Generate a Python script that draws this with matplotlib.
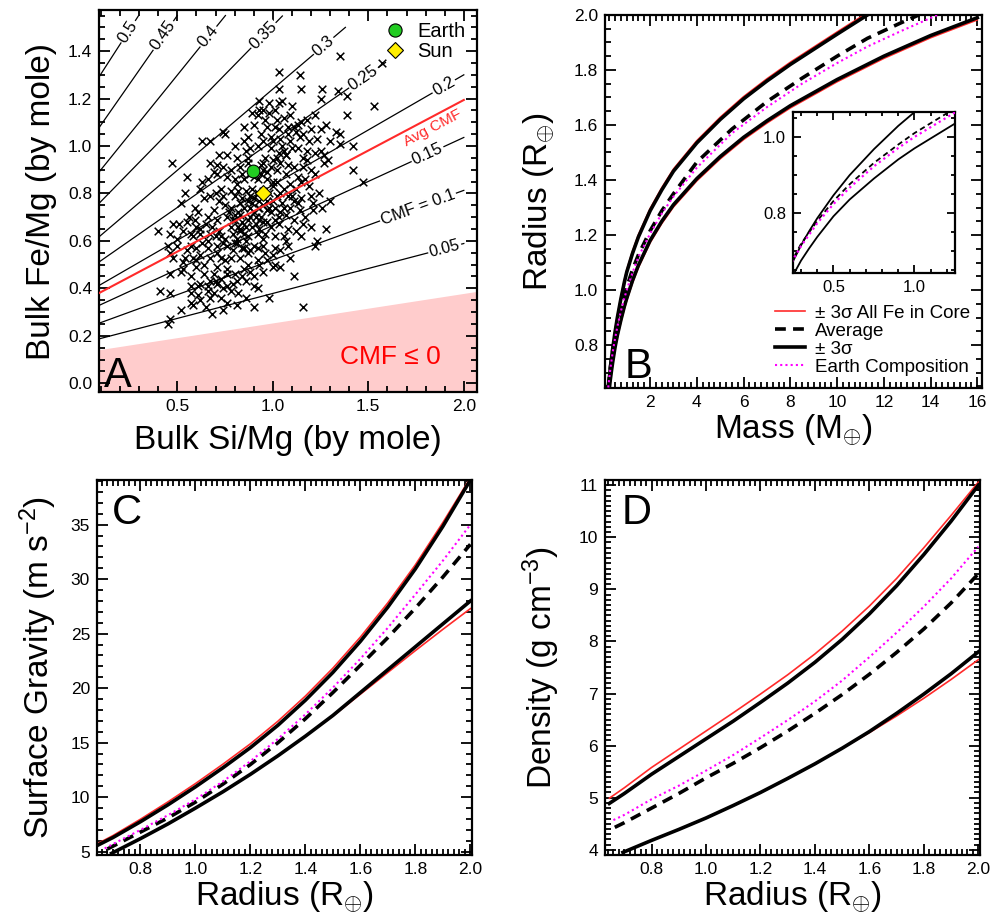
import matplotlib
matplotlib.use('Agg')
import matplotlib.pyplot as plt
from matplotlib.ticker import MultipleLocator, FormatStrFormatter
from matplotlib.lines import Line2D
import numpy as np

plt.rcParams['font.family'] = ['Liberation Sans', 'DejaVu Sans']
plt.rcParams['mathtext.fontset'] = 'custom'
plt.rcParams['mathtext.rm'] = 'Liberation Sans'
plt.rcParams['mathtext.it'] = 'Liberation Sans:italic'
plt.rcParams['mathtext.sf'] = 'Liberation Sans'

# ---------------- Panel A data ----------------
cmf_levels = [0.05, 0.1, 0.15, 0.2, 0.25, 0.3, 0.35, 0.4, 0.45, 0.5]
cmf_labels = ['0.05', 'CMF = 0.1', '0.15', '0.2', '0.25', '0.3', '0.35', '0.4', '0.45', '0.5']
line_si_start = 0.09
line_fe_start = [0.187, 0.253, 0.328, 0.412, 0.511, 0.617, 0.758, 0.890, 1.077, 1.291]
line_si_end = [2.0, 2.0, 2.0, 2.0, 1.59, 1.38, 1.05, 0.752, 0.50, 0.296]
line_fe_end = [0.589, 0.813, 1.036, 1.30, 1.352, 1.50, 1.548, 1.55, 1.55, 1.548]
label_si = [1.90, 1.76, 1.81, 1.895, 1.475, 1.266, 0.951, 0.663, 0.427, 0.243]

avg_cmf_si = [0.09, 2.0]
avg_cmf_fe = [0.380, 1.194]
cmf0_si = [0.09, 2.07]
cmf0_fe = [0.139, 0.385]

earth_si, earth_fe = 0.895, 0.894
sun_si, sun_fe = 0.949, 0.804

sample_si = [
    1.35, 1.57, 1.03, 1.14, 1.15, 1.03, 1.26, 1.34, 1.25, 1.39, 1.53,
    0.98, 1.03, 0.93, 0.95, 0.92, 0.98, 1.01, 1.09, 1.39, 0.85, 1.01, 1.03, 1.08, 1.13, 1.15, 1.20, 1.25, 1.33, 1.35, 0.74, 0.75,
    0.94, 0.99, 0.95, 1.04, 1.09, 1.14, 1.19, 1.23, 1.35, 1.42, 0.63, 0.67, 0.85, 0.88, 0.92, 0.99, 1.06, 1.07, 1.13, 1.18, 1.22, 1.27, 0.76, 0.81, 0.87, 1.02, 1.16,
    0.47, 0.67, 0.71, 0.74, 0.78, 0.83, 0.87, 0.90, 0.95, 0.99, 1.02, 1.08, 1.11, 1.16, 1.20, 1.27, 1.29, 1.42, 0.55, 0.66, 0.71, 0.76, 0.80, 0.84, 0.94, 0.97, 1.02, 1.07, 1.13, 1.17, 1.22, 1.47,
    0.52, 0.54, 0.62, 0.67, 0.64, 0.73, 0.74, 0.80, 0.82, 0.87, 0.92, 0.95, 1.00, 1.02, 1.08, 1.11, 1.15, 1.20, 0.78, 0.83, 0.88, 0.93, 0.97, 1.01, 1.06, 1.09, 1.14, 1.30, 1.26, 1.21, 0.69, 0.59,
    0.40, 0.48, 0.51, 0.55, 0.59, 0.60, 0.65, 0.71, 0.76, 0.80, 0.83, 0.87, 0.91, 0.95, 0.99, 1.03, 1.08, 1.11, 1.16, 1.20, 1.28, 1.23, 0.57, 0.62, 0.67, 0.73, 0.79, 0.83, 0.87, 0.92, 0.95, 1.01, 1.06, 1.15, 0.46,
    0.45, 0.50, 0.46, 0.57, 0.60, 0.66, 0.71, 0.76, 0.81, 0.85, 0.90, 0.95, 1.01, 1.08, 1.22, 0.48, 0.53, 0.58, 0.62, 0.67, 0.73, 0.78, 0.83, 0.87, 0.92, 0.97, 1.01, 1.09, 0.60, 0.71,
    0.46, 0.53, 0.57, 0.62, 0.67, 0.73, 0.76, 0.80, 0.85, 0.90, 0.95, 1.00, 1.04, 1.11, 0.57, 0.61, 0.66, 0.71, 0.76, 0.81, 0.86, 0.90, 0.41, 0.46, 0.57, 0.66, 0.78, 0.92,
    0.57, 0.58, 0.62, 0.67, 0.73, 0.76, 0.81, 0.98, 0.90, 1.16, 0.52, 0.68, 0.74, 0.46, 0.45, 0.65,
    0.82, 0.85, 0.88, 0.90, 0.86, 0.84, 0.80, 0.92, 0.89, 0.94, 0.97, 0.99, 0.91, 0.88, 0.83, 0.86, 0.78, 0.81, 0.93, 0.96, 1.03, 1.05, 0.98, 1.00,
    0.95, 0.92, 0.89, 0.96, 1.04, 1.07, 1.10, 1.12, 1.00, 0.97, 1.06, 1.16, 1.18, 0.87, 0.79, 0.74, 0.70, 0.76, 0.69, 0.64, 0.63, 0.58, 0.55, 0.52,
    0.84, 0.86, 0.90, 0.93, 0.95, 0.98, 1.00, 1.04, 1.06, 1.09, 1.12, 1.10, 1.13, 1.07, 1.04, 1.01, 0.97, 0.93, 0.89, 0.85,
    0.82, 0.79, 0.77, 0.75, 0.72, 0.70, 0.78, 0.81, 0.85, 0.88, 0.91, 0.94, 0.97, 1.00, 1.03, 1.05, 1.08, 1.11, 1.02, 0.96,
    0.90, 0.87, 0.80, 0.72, 0.69, 0.63, 0.61, 0.66, 0.68, 0.72, 0.75, 0.80, 0.84, 0.88, 0.92, 0.96, 1.00, 1.04, 1.07, 1.12,
    1.17, 1.21, 1.24, 1.19, 1.15, 0.75, 0.71, 0.66, 0.62, 0.56, 0.53, 0.50, 0.54, 0.60, 0.64, 0.70, 0.74, 0.79, 0.84, 0.88,
    0.93, 0.82, 0.86, 0.69, 0.61, 1.18, 1.25, 1.30, 1.28, 1.22, 1.10, 1.05, 0.93, 0.89, 0.86,
]
sample_fe = [
    1.38, 1.35, 1.31, 1.30, 1.24, 1.24, 1.24, 1.23, 1.20, 1.21, 1.17,
    1.18, 1.18, 1.15, 1.15, 1.13, 1.14, 1.15, 1.13, 1.13, 1.08, 1.08, 1.07, 1.08, 1.09, 1.10, 1.07, 1.07, 1.06, 1.05, 1.06, 1.05,
    1.05, 1.04, 1.02, 1.03, 1.02, 1.04, 1.02, 1.03, 1.01, 1.00, 1.02, 1.02, 1.02, 0.99, 1.00, 0.99, 0.98, 0.96, 0.99, 0.98, 0.97, 0.96, 0.96, 0.95, 0.95, 0.95, 0.95,
    0.93, 0.93, 0.92, 0.91, 0.90, 0.91, 0.93, 0.87, 0.93, 0.91, 0.90, 0.92, 0.91, 0.91, 0.90, 0.93, 0.94, 0.90, 0.87, 0.86, 0.88, 0.87, 0.86, 0.88, 0.88, 0.86, 0.85, 0.88, 0.87, 0.86, 0.88, 0.85,
    0.76, 0.80, 0.82, 0.79, 0.78, 0.82, 0.79, 0.79, 0.81, 0.77, 0.80, 0.81, 0.83, 0.79, 0.79, 0.77, 0.78, 0.79, 0.74, 0.76, 0.74, 0.74, 0.73, 0.74, 0.74, 0.74, 0.73, 0.77, 0.74, 0.73, 0.73, 0.74,
    0.64, 0.67, 0.67, 0.68, 0.69, 0.66, 0.67, 0.69, 0.70, 0.69, 0.71, 0.69, 0.70, 0.68, 0.66, 0.67, 0.65, 0.69, 0.67, 0.66, 0.65, 0.60, 0.63, 0.63, 0.63, 0.62, 0.63, 0.65, 0.62, 0.63, 0.61, 0.62, 0.62, 0.62, 0.63,
    0.58, 0.58, 0.55, 0.58, 0.57, 0.57, 0.58, 0.58, 0.59, 0.57, 0.58, 0.58, 0.57, 0.58, 0.58, 0.53, 0.51, 0.53, 0.54, 0.53, 0.53, 0.53, 0.53, 0.50, 0.52, 0.52, 0.50, 0.53, 0.49, 0.49,
    0.46, 0.48, 0.45, 0.42, 0.43, 0.44, 0.46, 0.46, 0.48, 0.45, 0.47, 0.49, 0.49, 0.45, 0.41, 0.41, 0.41, 0.42, 0.41, 0.43, 0.43, 0.41, 0.39, 0.38, 0.38, 0.39, 0.39, 0.40,
    0.34, 0.33, 0.35, 0.36, 0.36, 0.34, 0.33, 0.36, 0.32, 0.32, 0.31, 0.29, 0.31, 0.27, 0.25, 0.32,
    0.72, 0.74, 0.70, 0.72, 0.66, 0.68, 0.71, 0.74, 0.76, 0.70, 0.77, 0.72, 0.67, 0.79, 0.64, 0.60, 0.66, 0.61, 0.65, 0.63, 0.70, 0.76, 0.80, 0.85,
    0.90, 0.86, 0.82, 0.95, 0.93, 0.96, 0.99, 1.06, 1.02, 1.08, 1.12, 1.05, 1.11, 0.55, 0.56, 0.59, 0.62, 0.48, 0.46, 0.50, 0.59, 0.62, 0.56, 0.47,
    0.78, 0.81, 0.78, 0.77, 0.75, 0.74, 0.77, 0.80, 0.82, 0.84, 0.82, 0.79, 0.76, 0.71, 0.72, 0.69, 0.68, 0.69, 0.66, 0.63,
    0.66, 0.69, 0.72, 0.75, 0.77, 0.80, 0.81, 0.84, 0.86, 0.88, 0.90, 0.92, 0.89, 0.94, 0.97, 1.00, 1.05, 1.08, 1.11, 1.11,
    1.09, 1.04, 1.00, 0.96, 0.89, 0.85, 0.72, 0.70, 0.66, 0.64, 0.61, 0.59, 0.57, 0.56, 0.57, 0.55, 0.54, 0.56, 0.60, 0.64,
    0.70, 0.76, 0.80, 0.83, 0.85, 0.52, 0.55, 0.60, 0.65, 0.70, 0.64, 0.61, 0.53, 0.52, 0.46, 0.43, 0.40, 0.42, 0.45, 0.47,
    0.50, 0.38, 0.36, 0.38, 0.37, 0.94, 0.98, 1.02, 1.09, 1.13, 1.17, 1.19, 1.19, 1.14, 0.98,
]

# ---------------- Panel B data (mass, radius) ----------------
mr_up_mass = [0.21, 0.25, 0.3, 0.35, 0.4, 0.5, 0.6, 0.75, 0.9, 1.0, 1.25, 1.5, 2.0, 2.5, 3.0, 4.0, 5.0, 6.0, 7.0, 8.0, 9.0, 10.0, 11.3]
mr_up_rad = [0.64, 0.674, 0.716, 0.753, 0.787, 0.847, 0.90, 0.968, 1.029, 1.065, 1.134, 1.193, 1.288, 1.364, 1.432, 1.535, 1.62, 1.695, 1.76, 1.82, 1.875, 1.93, 2.0]
mr_up_red_rad = [0.648, 0.682, 0.724, 0.761, 0.795, 0.855, 0.908, 0.976, 1.037, 1.073, 1.142, 1.201, 1.296, 1.372, 1.44, 1.543, 1.628, 1.703, 1.768, 1.828, 1.883, 1.938, 2.008]
mr_lo_mass = [0.26, 0.3, 0.35, 0.4, 0.5, 0.6, 0.75, 0.9, 1.0, 1.25, 1.5, 2.0, 2.5, 3.0, 4.0, 5.0, 6.0, 7.0, 8.0, 10.0, 12.0, 14.0, 16.0]
mr_lo_rad = [0.645, 0.676, 0.708, 0.738, 0.792, 0.836, 0.891, 0.941, 0.97, 1.035, 1.09, 1.18, 1.25, 1.31, 1.405, 1.485, 1.555, 1.615, 1.67, 1.765, 1.85, 1.925, 1.99]
mr_lo_red_rad = [0.637, 0.668, 0.70, 0.73, 0.784, 0.828, 0.883, 0.933, 0.962, 1.027, 1.082, 1.172, 1.242, 1.302, 1.397, 1.477, 1.547, 1.607, 1.662, 1.757, 1.842, 1.917, 1.982]
mr_avg_mass = [0.205, 0.25, 0.3, 0.4, 0.5, 0.6, 0.75, 0.9, 1.0, 1.25, 1.5, 2.0, 2.5, 3.0, 4.0, 5.5, 7.0, 8.5, 10.0, 11.3, 12.7, 13.5]
mr_avg_rad = [0.645, 0.68, 0.72, 0.78, 0.832, 0.876, 0.932, 0.98, 1.01, 1.075, 1.128, 1.215, 1.288, 1.35, 1.465, 1.585, 1.685, 1.77, 1.85, 1.915, 1.97, 2.0]
mr_earth_mass = [0.21, 0.25, 0.3, 0.4, 0.5, 0.6, 0.75, 0.9, 1.0, 1.25, 1.5, 2.0, 2.5, 3.0, 4.0, 5.5, 7.0, 8.5, 10.0, 11.3, 12.7, 14.3]
mr_earth_rad = [0.646, 0.678, 0.714, 0.774, 0.824, 0.867, 0.923, 0.971, 1.0, 1.064, 1.12, 1.205, 1.278, 1.34, 1.445, 1.57, 1.665, 1.75, 1.825, 1.885, 1.94, 2.0]

# ---------------- Panel C data (radius, surface gravity) ----------------
g_hi_rad = [0.645, 0.7, 0.8, 0.9, 1.0, 1.1, 1.2, 1.3, 1.4, 1.5, 1.6, 1.7, 1.8, 1.9, 2.0]
g_hi = [5.6, 6.3, 7.75, 9.3, 10.95, 12.7, 14.55, 16.6, 18.9, 21.45, 24.3, 27.45, 30.95, 34.85, 39.1]
g_hi_red = [5.75, 6.48, 7.98, 9.57, 11.25, 13.03, 14.9, 16.97, 19.28, 21.84, 24.69, 27.84, 31.32, 35.2, 39.3]
g_lo_rad = [0.695, 0.8, 0.9, 1.0, 1.1, 1.2, 1.3, 1.4, 1.5, 1.6, 1.7, 1.8, 1.9, 2.0]
g_lo = [4.85, 6.2, 7.55, 9.0, 10.5, 12.1, 13.8, 15.6, 17.5, 19.6, 21.7, 23.8, 25.9, 28.0]
g_lo_red = [4.85, 6.2, 7.55, 9.0, 10.5, 12.1, 13.8, 15.6, 17.45, 19.45, 21.45, 23.45, 25.4, 27.3]
g_earth_rad = [0.67, 0.7, 0.8, 0.9, 1.0, 1.1, 1.2, 1.3, 1.4, 1.5, 1.6, 1.7, 1.8, 1.9, 2.0]
g_earth = [5.3, 5.7, 7.0, 8.35, 9.8, 11.45, 13.3, 15.35, 17.6, 20.05, 22.7, 25.55, 28.6, 31.7, 35.0]
g_avg_rad = [0.68, 0.8, 0.9, 1.0, 1.1, 1.2, 1.3, 1.4, 1.5, 1.6, 1.7, 1.8, 1.9, 2.0]
g_avg = [5.25, 6.8, 8.1, 9.55, 11.2, 13.0, 15.0, 17.2, 19.6, 22.1, 24.65, 27.35, 30.2, 33.2]

# ---------------- Panel D data (radius, density) ----------------
d_hi_rad = [0.645, 0.7, 0.8, 0.9, 1.0, 1.1, 1.2, 1.3, 1.4, 1.5, 1.6, 1.7, 1.8, 1.9, 2.0]
d_hi = [4.89, 5.08, 5.45, 5.79, 6.13, 6.47, 6.83, 7.2, 7.6, 8.04, 8.53, 9.07, 9.67, 10.31, 11.0]
d_hi_red = [4.99, 5.19, 5.58, 5.93, 6.28, 6.63, 6.99, 7.36, 7.76, 8.2, 8.68, 9.21, 9.8, 10.42, 11.06]
d_lo_rad = [0.695, 0.8, 0.9, 1.0, 1.1, 1.2, 1.3, 1.4, 1.5, 1.6, 1.7, 1.8, 1.9, 2.0]
d_lo = [3.95, 4.18, 4.39, 4.61, 4.85, 5.1, 5.37, 5.65, 5.95, 6.27, 6.62, 6.99, 7.38, 7.8]
d_lo_red = [3.95, 4.18, 4.39, 4.61, 4.85, 5.1, 5.37, 5.65, 5.95, 6.25, 6.57, 6.91, 7.27, 7.65]
d_earth_rad = [0.66, 0.7, 0.8, 0.9, 1.0, 1.1, 1.2, 1.3, 1.4, 1.5, 1.6, 1.7, 1.8, 1.9, 2.0]
d_earth = [4.57, 4.67, 4.97, 5.23, 5.52, 5.82, 6.15, 6.49, 6.85, 7.25, 7.7, 8.17, 8.67, 9.21, 9.82]
d_avg_rad = [0.665, 0.7, 0.8, 0.9, 1.0, 1.1, 1.2, 1.3, 1.4, 1.5, 1.6, 1.7, 1.8, 1.9, 2.0]
d_avg = [4.43, 4.52, 4.8, 5.08, 5.38, 5.66, 5.96, 6.28, 6.62, 6.98, 7.37, 7.79, 8.24, 8.74, 9.3]

# ---------------- styling ----------------
RED = '#ff2a2a'
MAG = '#ff00ff'
LW_BLK = 2.6
LW_RED = 1.2
TICK_FS = 12.5
LAB_FS = 24


def style(ax, xmaj, xmin, ymaj, ymin, xfmt, yfmt, fs=TICK_FS, majlen=8, minlen=4):
    ax.xaxis.set_major_locator(MultipleLocator(xmaj))
    ax.xaxis.set_minor_locator(MultipleLocator(xmin))
    ax.yaxis.set_major_locator(MultipleLocator(ymaj))
    ax.yaxis.set_minor_locator(MultipleLocator(ymin))
    ax.xaxis.set_major_formatter(FormatStrFormatter(xfmt))
    ax.yaxis.set_major_formatter(FormatStrFormatter(yfmt))
    ax.tick_params(which='both', direction='in', top=True, right=True, width=1.3,
                   labelsize=fs, pad=5)
    ax.tick_params(which='major', length=majlen)
    ax.tick_params(which='minor', length=minlen)
    for sp in ax.spines.values():
        sp.set_linewidth(1.6)


fig = plt.figure(figsize=(9.9, 9.22), dpi=100)

# ================= Panel A =================
axA = fig.add_axes([0.100, 0.5748, 0.382, 0.4143])
axA.set_xlim(0.09, 2.07)
axA.set_ylim(-0.037, 1.573)
axA.fill([0.09, cmf0_si[0], cmf0_si[1], 2.07], [-0.037, cmf0_fe[0], cmf0_fe[1], -0.037],
         color='#ffcccc', lw=0, zorder=0)
for k, lev in enumerate(cmf_levels):
    xs = [line_si_start, line_si_end[k]]
    ys = [line_fe_start[k], line_fe_end[k]]
    axA.plot(xs, ys, color='black', lw=0.9, zorder=2)
    slope = (ys[1] - ys[0]) / (xs[1] - xs[0])
    ang = np.degrees(np.arctan(slope))
    ly = ys[0] + slope * (label_si[k] - xs[0])
    fs = 12 if k > 0 else 11.5
    axA.text(label_si[k], ly, cmf_labels[k], rotation=ang, transform_rotates_text=True,
             rotation_mode='anchor', ha='center', va='center', fontsize=fs, zorder=4,
             bbox=dict(fc='white', ec='none', pad=1.0))
axA.scatter(sample_si, sample_fe, marker='x', s=30, c='black', linewidths=1.1, zorder=3)
axA.plot(avg_cmf_si, avg_cmf_fe, color=RED, lw=1.5, zorder=3)
aslope = (avg_cmf_fe[1] - avg_cmf_fe[0]) / (avg_cmf_si[1] - avg_cmf_si[0])
axA.text(1.837, 1.074, 'Avg CMF', color=RED, fontsize=11, rotation=np.degrees(np.arctan(aslope)),
         transform_rotates_text=True, rotation_mode='anchor', ha='center', va='center', zorder=5)
axA.scatter([earth_si], [earth_fe], marker='o', s=85, c='#22cc22', edgecolors='black',
            linewidths=0.8, zorder=6)
axA.scatter([sun_si], [sun_fe], marker='D', s=65, c='#ffee00', edgecolors='black',
            linewidths=0.8, zorder=6)
hE = Line2D([], [], marker='o', ls='none', ms=9.5, mfc='#22cc22', mec='black', mew=0.8)
hS = Line2D([], [], marker='D', ls='none', ms=8.5, mfc='#ffee00', mec='black', mew=0.8)
axA.legend([hE, hS], ['Earth', 'Sun'], loc='upper right', frameon=False, fontsize=14.5,
           handletextpad=0.6, labelspacing=0.05, borderaxespad=0.2, handlelength=1.0)
axA.text(1.617, 0.11, 'CMF \u2264 0', color='#ff0000', fontsize=19, ha='center', va='center')
axA.text(0.013, 0.012, 'A', transform=axA.transAxes, fontsize=30, ha='left', va='baseline')
style(axA, 0.5, 0.1, 0.2, 0.05, '%.1f', '%.1f')
axA.set_xlabel('Bulk Si/Mg (by mole)', fontsize=LAB_FS, labelpad=8)
axA.set_ylabel('Bulk Fe/Mg (by mole)', fontsize=LAB_FS, labelpad=8)

# ================= Panel B =================
axB = fig.add_axes([0.6111, 0.5792, 0.3808, 0.4046])


def draw_mr(ax, lw_b, lw_m, with_red=True, lw_r=LW_RED):
    if with_red:
        ax.plot(mr_up_mass, mr_up_red_rad, color=RED, lw=lw_r, zorder=2)
        ax.plot(mr_lo_mass, mr_lo_red_rad, color=RED, lw=lw_r, zorder=2)
    ax.plot(mr_up_mass, mr_up_rad, color='black', lw=lw_b, zorder=3)
    ax.plot(mr_lo_mass, mr_lo_rad, color='black', lw=lw_b, zorder=3)
    ax.plot(mr_avg_mass, mr_avg_rad, color='black', lw=lw_b, ls=(0, (3, 2)), zorder=3)
    ax.plot(mr_earth_mass, mr_earth_rad, color=MAG, lw=lw_m, ls=(0, (1, 1.5)), zorder=3)


draw_mr(axB, LW_BLK, 1.5)
axB.set_xlim(0.07, 16.2)
axB.set_ylim(0.644, 2.0)
style(axB, 2, 0.25, 0.2, 0.05, '%d', '%.1f')
axB.set_xlabel('Mass (M$_{\\oplus}$)', fontsize=LAB_FS, labelpad=2)
axB.set_ylabel('Radius (R$_{\\oplus}$)', fontsize=LAB_FS, labelpad=12)
axB.text(0.053, 0.027, 'B', transform=axB.transAxes, fontsize=30, ha='left', va='baseline')
legh = [Line2D([], [], color=RED, lw=1.2),
        Line2D([], [], color='black', lw=2.6, ls=(0, (3, 2))),
        Line2D([], [], color='black', lw=2.6),
        Line2D([], [], color=MAG, lw=1.5, ls=(0, (1, 1.5)))]
axB.legend(legh, ['\u00b1 3\u03c3 All Fe in Core', 'Average', '\u00b1 3\u03c3', 'Earth Composition'],
           loc='lower right', frameon=False, fontsize=13.5, handlelength=1.6,
           handletextpad=0.5, labelspacing=0.05, borderaxespad=0.25)

axI = fig.add_axes([0.801, 0.7042, 0.1636, 0.1746])
draw_mr(axI, 1.3, 1.6, with_red=False)
axI.set_xlim(0.25, 1.25)
axI.set_ylim(0.644, 1.066)
style(axI, 0.5, 0.1, 0.2, 0.05, '%.1f', '%.1f', fs=12, majlen=6, minlen=3)

# ================= Panel C =================
axC = fig.add_axes([0.098, 0.0727, 0.3788, 0.4067])
axC.plot(g_hi_rad, g_hi_red, color=RED, lw=LW_RED, zorder=2)
axC.plot(g_lo_rad, g_lo_red, color=RED, lw=LW_RED, zorder=2)
axC.plot(g_hi_rad, g_hi, color='black', lw=LW_BLK, zorder=3)
axC.plot(g_lo_rad, g_lo, color='black', lw=LW_BLK, zorder=3)
axC.plot(g_avg_rad, g_avg, color='black', lw=LW_BLK, ls=(0, (3, 2)), zorder=3)
axC.plot(g_earth_rad, g_earth, color=MAG, lw=1.5, ls=(0, (1, 1.5)), zorder=3)
axC.set_xlim(0.642, 2.006)
axC.set_ylim(4.7, 39.1)
style(axC, 0.2, 0.02, 5, 1, '%.1f', '%d')
axC.set_xlabel('Radius (R$_{\\oplus}$)', fontsize=LAB_FS, labelpad=2)
axC.set_ylabel('Surface Gravity (m s$^{-2}$)', fontsize=LAB_FS, labelpad=8)
axC.text(0.04, 0.965, 'C', transform=axC.transAxes, fontsize=30, ha='left', va='top')

# ================= Panel D =================
axD = fig.add_axes([0.6111, 0.0727, 0.3788, 0.4067])
axD.plot(d_hi_rad, d_hi_red, color=RED, lw=LW_RED, zorder=2)
axD.plot(d_lo_rad, d_lo_red, color=RED, lw=LW_RED, zorder=2)
axD.plot(d_hi_rad, d_hi, color='black', lw=LW_BLK, zorder=3)
axD.plot(d_lo_rad, d_lo, color='black', lw=LW_BLK, zorder=3)
axD.plot(d_avg_rad, d_avg, color='black', lw=LW_BLK, ls=(0, (3, 2)), zorder=3)
axD.plot(d_earth_rad, d_earth, color=MAG, lw=1.5, ls=(0, (1, 1.5)), zorder=3)
axD.set_xlim(0.629, 2.006)
axD.set_ylim(3.9, 11.1)
style(axD, 0.2, 0.02, 1, 0.1, '%.1f', '%d')
axD.set_xlabel('Radius (R$_{\\oplus}$)', fontsize=LAB_FS, labelpad=2)
axD.set_ylabel('Density (g cm$^{-3}$)', fontsize=LAB_FS, labelpad=12)
axD.text(0.045, 0.965, 'D', transform=axD.transAxes, fontsize=30, ha='left', va='top')

fig.savefig('out.png', dpi=100)
